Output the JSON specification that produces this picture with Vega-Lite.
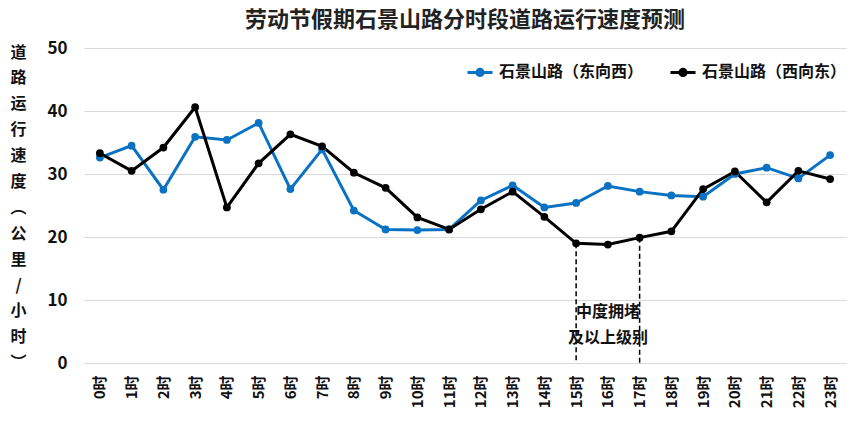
{
  "$schema": "https://vega.github.io/schema/vega-lite/v6.json",
  "width": 762,
  "height": 315,
  "autosize": {"type": "none"},
  "padding": {"left": 84, "top": 48, "right": 18, "bottom": 61},
  "background": "white",
  "config": {
    "font": "Noto Sans CJK SC",
    "view": {"stroke": null}
  },
  "title": {
    "text": "劳动节假期石景山路分时段道路运行速度预测",
    "fontSize": 22,
    "fontWeight": "bold",
    "color": "#222222",
    "anchor": "middle",
    "offset": 7
  },
  "datasets": {
    "speeds": [
      {"hour": "0时", "series": "石景山路（东向西）", "speed": 32.6},
      {"hour": "1时", "series": "石景山路（东向西）", "speed": 34.5},
      {"hour": "2时", "series": "石景山路（东向西）", "speed": 27.5},
      {"hour": "3时", "series": "石景山路（东向西）", "speed": 35.9},
      {"hour": "4时", "series": "石景山路（东向西）", "speed": 35.4},
      {"hour": "5时", "series": "石景山路（东向西）", "speed": 38.1},
      {"hour": "6时", "series": "石景山路（东向西）", "speed": 27.6},
      {"hour": "7时", "series": "石景山路（东向西）", "speed": 33.9},
      {"hour": "8时", "series": "石景山路（东向西）", "speed": 24.2},
      {"hour": "9时", "series": "石景山路（东向西）", "speed": 21.2},
      {"hour": "10时", "series": "石景山路（东向西）", "speed": 21.1},
      {"hour": "11时", "series": "石景山路（东向西）", "speed": 21.2},
      {"hour": "12时", "series": "石景山路（东向西）", "speed": 25.8},
      {"hour": "13时", "series": "石景山路（东向西）", "speed": 28.2},
      {"hour": "14时", "series": "石景山路（东向西）", "speed": 24.7},
      {"hour": "15时", "series": "石景山路（东向西）", "speed": 25.4},
      {"hour": "16时", "series": "石景山路（东向西）", "speed": 28.1},
      {"hour": "17时", "series": "石景山路（东向西）", "speed": 27.2},
      {"hour": "18时", "series": "石景山路（东向西）", "speed": 26.6},
      {"hour": "19时", "series": "石景山路（东向西）", "speed": 26.4},
      {"hour": "20时", "series": "石景山路（东向西）", "speed": 30.0},
      {"hour": "21时", "series": "石景山路（东向西）", "speed": 31.0},
      {"hour": "22时", "series": "石景山路（东向西）", "speed": 29.3},
      {"hour": "23时", "series": "石景山路（东向西）", "speed": 33.0},
      {"hour": "0时", "series": "石景山路（西向东）", "speed": 33.3},
      {"hour": "1时", "series": "石景山路（西向东）", "speed": 30.5},
      {"hour": "2时", "series": "石景山路（西向东）", "speed": 34.2},
      {"hour": "3时", "series": "石景山路（西向东）", "speed": 40.6},
      {"hour": "4时", "series": "石景山路（西向东）", "speed": 24.7},
      {"hour": "5时", "series": "石景山路（西向东）", "speed": 31.7},
      {"hour": "6时", "series": "石景山路（西向东）", "speed": 36.3},
      {"hour": "7时", "series": "石景山路（西向东）", "speed": 34.4},
      {"hour": "8时", "series": "石景山路（西向东）", "speed": 30.2},
      {"hour": "9时", "series": "石景山路（西向东）", "speed": 27.8},
      {"hour": "10时", "series": "石景山路（西向东）", "speed": 23.1},
      {"hour": "11时", "series": "石景山路（西向东）", "speed": 21.2},
      {"hour": "12时", "series": "石景山路（西向东）", "speed": 24.4},
      {"hour": "13时", "series": "石景山路（西向东）", "speed": 27.2},
      {"hour": "14时", "series": "石景山路（西向东）", "speed": 23.2},
      {"hour": "15时", "series": "石景山路（西向东）", "speed": 19.0},
      {"hour": "16时", "series": "石景山路（西向东）", "speed": 18.8},
      {"hour": "17时", "series": "石景山路（西向东）", "speed": 19.9},
      {"hour": "18时", "series": "石景山路（西向东）", "speed": 20.9},
      {"hour": "19时", "series": "石景山路（西向东）", "speed": 27.6},
      {"hour": "20时", "series": "石景山路（西向东）", "speed": 30.4},
      {"hour": "21时", "series": "石景山路（西向东）", "speed": 25.5},
      {"hour": "22时", "series": "石景山路（西向东）", "speed": 30.5},
      {"hour": "23时", "series": "石景山路（西向东）", "speed": 29.2}
    ],
    "marks": [
      {"hour": "15时", "speed": 19.0},
      {"hour": "17时", "speed": 19.9}
    ],
    "notes": [
      {"hour": "16时", "speed": 8.1, "label": "中度拥堵"},
      {"hour": "16时", "speed": 3.9, "label": "及以上级别"}
    ]
  },
  "encoding": {
    "x": {
      "field": "hour", "type": "ordinal",
      "scale": {
        "type": "point", "padding": 0.5,
        "domain": ["0时","1时","2时","3时","4时","5时","6时","7时","8时","9时","10时","11时","12时","13时","14时","15时","16时","17时","18时","19时","20时","21时","22时","23时"]
      },
      "axis": {
        "title": null, "labelAngle": -90, "labelFontSize": 15, "labelFontWeight": "bold",
        "labelColor": "#111111", "ticks": false, "domain": false, "labelPadding": 12, "grid": false
      }
    },
    "y": {
      "field": "speed", "type": "quantitative",
      "scale": {"domain": [0, 50], "nice": false},
      "axis": {
        "values": [0, 10, 20, 30, 40, 50],
        "title": ["道", "路", "运", "行", "速", "度", "︵", "公", "里", "/", "小", "时", "︶"],
        "titleAngle": 0, "titleX": -66, "titleY": -4, "titleAlign": "center", "titleBaseline": "top",
        "titleLineHeight": 25.9, "titleFontSize": 16, "titleFontWeight": "bold", "titleColor": "#111111",
        "labelFontSize": 17, "labelFontWeight": "bold", "labelColor": "#111111", "labelPadding": 17,
        "ticks": false, "domain": false, "gridColor": "#d9d9d9", "gridWidth": 1.2
      }
    }
  },
  "layer": [
    {
      "data": {"name": "marks"},
      "mark": {"type": "rule", "color": "black", "strokeWidth": 1.5, "strokeDash": [5, 3]},
      "encoding": {
        "y2": {"datum": 0}
      }
    },
    {
      "data": {"name": "speeds"},
      "mark": {"type": "line", "strokeWidth": 3, "point": {"filled": true, "size": 60, "opacity": 1}},
      "encoding": {
        "color": {
          "field": "series", "type": "nominal",
          "scale": {"domain": ["石景山路（东向西）", "石景山路（西向东）"], "range": ["#0a72c2", "#000000"]},
          "legend": {
            "title": null, "orient": "none", "direction": "horizontal", "legendX": 382, "legendY": 10,
            "labelFontSize": 16, "labelFontWeight": "bold", "labelColor": "#111111",
            "symbolType": "M-1,0H1M-0.25,0a0.25,0.25 0 1,0 0.5,0a0.25,0.25 0 1,0 -0.5,0",
            "symbolSize": 625, "symbolStrokeWidth": 3, "columnPadding": 20, "labelOffset": 5,
            "encode": {"symbols": {"update": {"fill": {"scale": "color", "field": "value"}}}}
          }
        }
      }
    },
    {
      "data": {"name": "notes"},
      "mark": {"type": "text", "fontSize": 16, "fontWeight": "bold", "color": "#111111", "align": "center", "baseline": "middle"},
      "encoding": {
        "text": {"field": "label"}
      }
    }
  ]
}
